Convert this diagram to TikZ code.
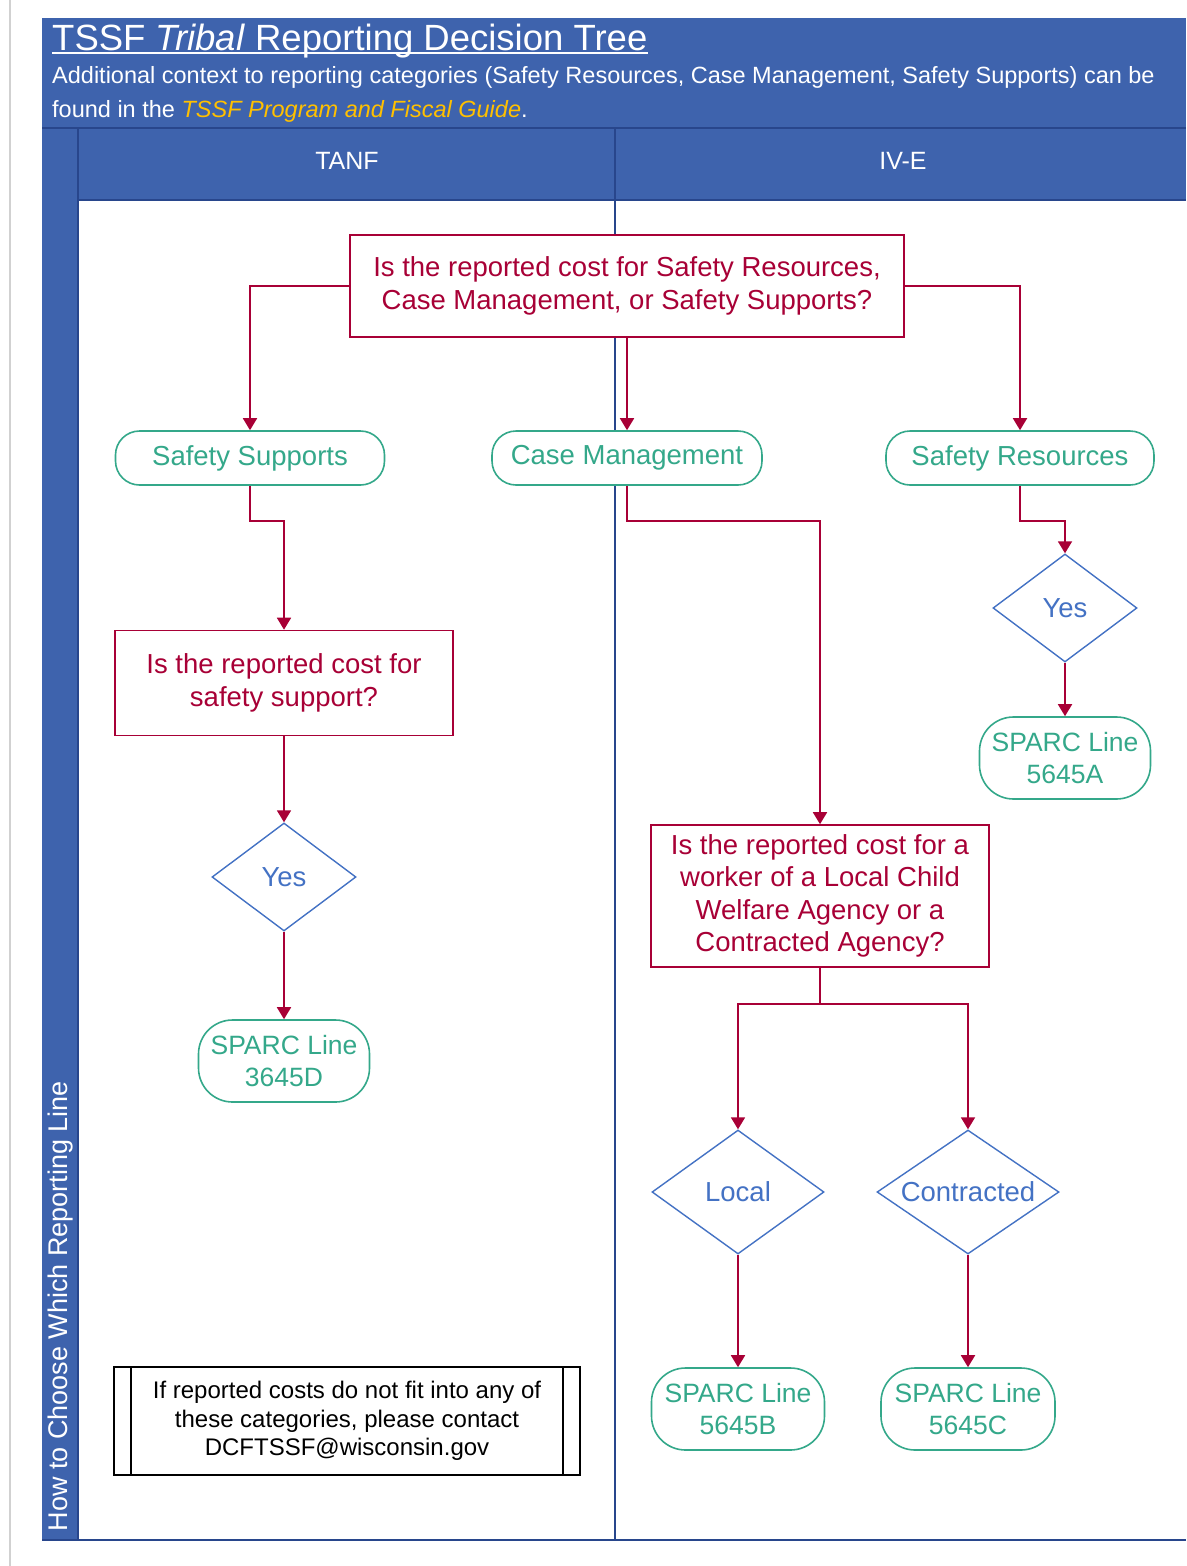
\documentclass[tikz,border=0pt]{standalone}
\usepackage{fontspec}
\setmainfont{Liberation Sans}
\usetikzlibrary{arrows.meta,shapes.geometric,positioning}

\definecolor{hdrblue}{RGB}{62,99,173}
\definecolor{hdrdark}{RGB}{40,70,140}
\definecolor{tsred}{RGB}{168,0,54}
\definecolor{tsgreen}{RGB}{52,168,138}
\definecolor{tsblue}{RGB}{68,114,196}
\definecolor{tsyellow}{RGB}{255,192,0}

\newcommand{\nodefont}{\fontsize{27.5}{32.5}\selectfont}
\newcommand{\sparcfont}{\fontsize{26.5}{32.5}\selectfont}
\newcommand{\notefont}{\fontsize{24}{28.5}\selectfont}

\begin{document}
\begin{tikzpicture}[x=1pt, y=-1pt,
    question/.style={draw=tsred, fill=white, text=tsred, line width=1.6, align=center, inner sep=0, font=\nodefont},
    category/.style={draw=tsgreen, fill=white, text=tsgreen, line width=1.6, rounded corners=24, minimum height=54, inner sep=0, font=\nodefont},
    sparc/.style={draw=tsgreen, fill=white, text=tsgreen, line width=1.6, rounded corners=34, minimum height=82, align=center, inner sep=0, font=\sparcfont},
    choice/.style={diamond, draw=tsblue, fill=white, text=tsblue, line width=1.4, inner sep=0, font=\nodefont},
    link/.style={draw=tsred, line width=1.8, -{Triangle[width=14pt,length=12pt]}}]
    \useasboundingbox (0,0) rectangle (1186,1566);

    % frame
    \draw[black!18, line width=1.5] (10,0) -- (10,1566);
    \fill[hdrblue] (42,18) rectangle (1186,200);
    \fill[hdrblue] (42,200) rectangle (78,1540);
    \draw[hdrdark, line width=1.2] (42,128) -- (1186,128);
    \draw[hdrdark, line width=1.2] (78,128) -- (78,1540);
    \draw[hdrdark, line width=1.2] (615,128) -- (615,1540);
    \draw[hdrdark, line width=1.2] (78,200) -- (1186,200);
    \draw[hdrdark, line width=1.6] (42,1540) -- (1186,1540);

    % heading
    \node[anchor=base west, inner sep=0, text=white, font=\fontsize{36.5}{40}\selectfont] (title) at (52,50)
        {TSSF \textit{Tribal} Reporting Decision Tree};
    \draw[white, line width=2] ([yshift=-3]title.base west) -- ([yshift=-3]title.base east);
    \node[anchor=base west, inner sep=0, text=white, font=\fontsize{23.5}{30}\selectfont] (sub1) at (52,83)
        {Additional context to reporting categories (Safety Resources, Case Management, Safety Supports) can be};
    \node[anchor=base west, inner sep=0, text=white, font=\fontsize{23.5}{30}\selectfont] (sub2) at (52,117)
        {found in the \textcolor{tsyellow}{\itshape TSSF Program and Fiscal Guide}.};

    % lanes
    \node[text=white, font=\fontsize{25}{30}\selectfont] (tanf) at (347,161) {TANF};
    \node[text=white, font=\fontsize{25}{30}\selectfont] (ive) at (903,161) {IV-E};
    \node[rotate=90, text=white, font=\fontsize{27}{30}\selectfont] (side) at (61,1306) {How to Choose Which Reporting Line};

    % decision nodes
    \node[question, minimum width=554, minimum height=102] (q1) at (627,286)
        {Is the reported cost for Safety Resources,\\Case Management, or Safety Supports?};
    \node[category, minimum width=269] (supports) at (250,458) {Safety Supports};
    \node[category, minimum width=270] (casemgmt) at (627,458) {Case Management};
    \node[category, minimum width=268] (resources) at (1020,458) {Safety Resources};

    \node[question, minimum width=338, minimum height=105] (q2) at (284,683)
        {Is the reported cost for\\safety support?};
    \node[choice, minimum width=144, minimum height=108, aspect=1.33] (yes1) at (284,877) {Yes};
    \node[sparc, minimum width=171] (sparcD) at (284,1061) {SPARC Line\\3645D};

    \node[choice, minimum width=144, minimum height=108, aspect=1.33] (yes2) at (1065,608) {Yes};
    \node[sparc, minimum width=171] (sparcA) at (1065,758) {SPARC Line\\5645A};

    \node[question, minimum width=338, minimum height=142] (q3) at (820,896)
        {Is the reported cost for a\\worker of a Local Child\\Welfare Agency or a\\Contracted Agency?};
    \node[choice, minimum width=172, minimum height=124, aspect=1.39] (local) at (738,1192) {Local};
    \node[choice, minimum width=182, minimum height=124, aspect=1.47] (contracted) at (968,1192) {Contracted};
    \node[sparc, minimum width=173] (sparcB) at (738,1409) {SPARC Line\\5645B};
    \node[sparc, minimum width=174] (sparcC) at (968,1409) {SPARC Line\\5645C};

    % note
    \node[draw, fill=white, line width=1.6, minimum width=466, minimum height=108, align=center, inner sep=0, font=\notefont] (note) at (347,1421)
        {If reported costs do not fit into any of\\these categories, please contact\\DCFTSSF@wisconsin.gov};
    \draw[line width=1.6] ([xshift=18]note.north west) -- ([xshift=18]note.south west);
    \draw[line width=1.6] ([xshift=-18]note.north east) -- ([xshift=-18]note.south east);

    % connectors
    \draw[link] (q1.west) -| (supports.north);
    \draw[link] (q1.south) -- (casemgmt.north);
    \draw[link] (q1.east) -| (resources.north);

    \draw[link] (supports.south) -- ++(0,35) -| (q2.north);
    \draw[link] (q2.south) -- (yes1.north);
    \draw[link] (yes1.south) -- (sparcD.north);

    \draw[link] (resources.south) -- ++(0,35) -| (yes2.north);
    \draw[link] (yes2.south) -- (sparcA.north);

    \draw[link] (casemgmt.south) -- ++(0,35) -| (q3.north);
    \draw[tsred, line width=1.8] (q3.south) -- ++(0,36) coordinate (split);
    \draw[link] (split) -| (local.north);
    \draw[link] (split) -| (contracted.north);
    \draw[link] (local.south) -- (sparcB.north);
    \draw[link] (contracted.south) -- (sparcC.north);
\end{tikzpicture}
\end{document}
